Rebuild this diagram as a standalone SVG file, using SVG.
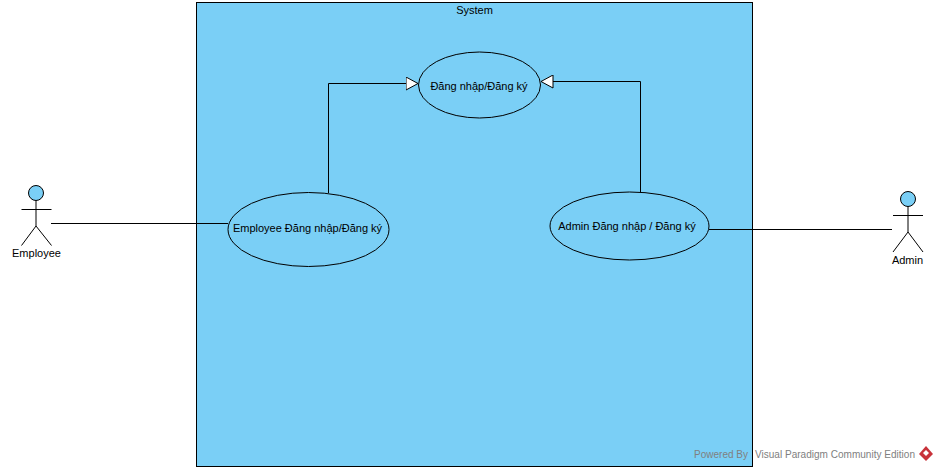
<svg xmlns="http://www.w3.org/2000/svg" width="938" height="471" viewBox="0 0 938 471">
<style>
text{font-family:"Liberation Sans",Arial,sans-serif;font-size:11px;fill:#000}
.s{stroke:#000;stroke-width:1;fill:none}
.b{stroke:#000;stroke-width:1;fill:#7acff6}
.w{fill:#808080;font-size:10.500px}
</style>
<defs>
<marker id="tri" markerUnits="userSpaceOnUse" markerWidth="14" markerHeight="14" refX="12.500" refY="7" orient="auto"><path d="M0.500 0.500L12.500 7L0.500 13.500Z" fill="#fff" stroke="#000"/></marker>
</defs>
<rect width="938" height="471" fill="#fff"/>
<g id="system"><rect class="b" x="196.500" y="2.500" width="556" height="464"/><text x="474.500" y="14" text-anchor="middle">System</text></g>
<g id="connectors">
<path class="s" d="M328.500 193V83.500H418" marker-end="url(#tri)"/>
<path class="s" d="M640.500 192V81.500H541" marker-end="url(#tri)"/>
<path class="s" d="M51 223.500H228"/>
<path class="s" d="M709 229.500H892"/>
</g>
<g id="uc-login"><ellipse class="b" cx="479.500" cy="85" rx="61" ry="33"/><text x="479" y="90" text-anchor="middle">Đăng nhập/Đăng ký</text></g>
<g id="uc-employee"><ellipse class="b" cx="308.500" cy="229.500" rx="80.500" ry="37"/><text x="307.500" y="232" text-anchor="middle">Employee Đăng nhập/Đăng ký</text></g>
<g id="uc-admin"><ellipse class="b" cx="629.500" cy="226" rx="79.500" ry="34"/><text x="627" y="230" text-anchor="middle">Admin Đăng nhập / Đăng ký</text></g>
<g id="actor-employee"><circle class="b" cx="36" cy="193" r="7.500"/><path class="s" d="M36 200.500V226M21.500 209.500H51.500M36 226L21.500 245.500M36 226L51.500 245.500"/><text x="36.500" y="257" text-anchor="middle">Employee</text></g>
<g id="actor-admin"><circle class="b" cx="908" cy="199" r="7.500"/><path class="s" d="M908 206.500V232M893 215.500H923M908 232L893 252M908 232L923 252"/><text x="907.500" y="264" text-anchor="middle">Admin</text></g>
<g id="watermark"><text class="w" x="694" y="458" textLength="54" lengthAdjust="spacingAndGlyphs">Powered By</text><text class="w" x="755" y="458" textLength="160" lengthAdjust="spacingAndGlyphs">Visual Paradigm Community Edition</text><path d="M926 446L933 454L926 461L919 454Z" fill="#c8323a"/><path d="M926 450L929 453L926 456L923 453Z" fill="#fff"/></g>
</svg>
